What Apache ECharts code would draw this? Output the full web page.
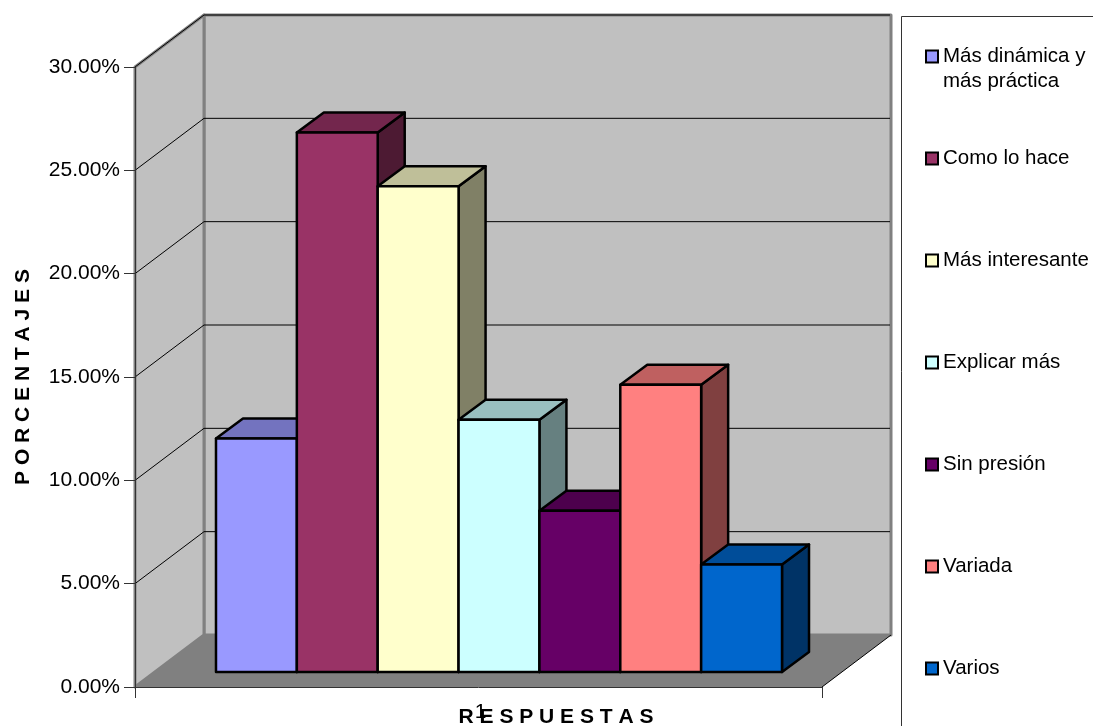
<!DOCTYPE html>
<html>
<head>
<meta charset="utf-8">
<style>html,body{margin:0;padding:0;background:#fff}#chart{width:1093px;height:726px}</style>
<script src="https://cdn.jsdelivr.net/npm/echarts@6/dist/echarts.min.js"></script>
</head>
<body>
<div id="chart"></div>
<script>
// Survey answers, in percent
const categories = ['1'];
const answers = ['Más dinámica y más práctica', 'Como lo hace', 'Más interesante', 'Explicar más', 'Sin presión', 'Variada', 'Varios'];
const shares = [11.3, 26.1, 23.5, 12.2, 7.8, 13.9, 5.2];
const palette = ['#9999FF', '#993366', '#FFFFCC', '#CCFFFF', '#660066', '#FF8080', '#0066CC'];
const gridValues = [5, 10, 15, 20, 25, 30];
const yTitle = 'P O R C E N T A J E S';
const xTitle = 'R E S P U E S T A S';

// Oblique projection of the box: full depth of the room, offset of the bar row, depth of a bar
const ROOM = [69, -52];
const ROW = [20.5, -15];
const BAR = [27, -20];
const BAR_SHARE = 0.1177;   // bar width as a share of the category band
const FONT = '"Liberation Sans", Arial, sans-serif';

function shade(hex, k) {
  const n = parseInt(hex.slice(1), 16);
  const c = [n >> 16, (n >> 8) & 255, n & 255].map(v => Math.round(v * k));
  return 'rgb(' + c.join(',') + ')';
}
function poly(points, fill, stroke, width) {
  return {
    type: 'polygon',
    shape: { points },
    style: { fill, stroke: stroke || null, lineWidth: width || 0, lineJoin: 'round' }
  };
}
function line(points, stroke, width) {
  return {
    type: 'polyline',
    shape: { points },
    style: { fill: null, stroke, lineWidth: width, lineJoin: 'miter' }
  };
}

// Side wall, back wall and floor of the room
function renderRoom(params, api) {
  const band = api.size([1, 0])[0];
  const o = api.coord([0, 0]);
  const t = api.coord([0, 30]);
  const x0 = o[0] - band / 2, x1 = o[0] + band / 2;
  const y0 = o[1], y1 = t[1];
  const [dx, dy] = ROOM;
  const wall = '#C0C0C0', edge = '#808080';
  return {
    type: 'group',
    children: [
      poly([[x0 + dx, y1 + dy], [x1 + dx, y1 + dy], [x1 + dx, y0 + dy], [x0 + dx, y0 + dy]], wall, edge, 3),
      poly([[x0, y1], [x0 + dx, y1 + dy], [x0 + dx, y0 + dy], [x0, y0]], wall, edge, 3),
      poly([[x0, y0], [x0 + dx, y0 + dy], [x1 + dx, y0 + dy], [x1, y0]], edge),
      line([[x1, y0], [x1 + dx, y0 + dy]], '#000', 1)
    ]
  };
}

// One gridline per value, bent across the side wall and the back wall
function renderGridline(params, api) {
  const band = api.size([1, 0])[0];
  const p = api.coord([0, api.value(1)]);
  const x0 = p[0] - band / 2, x1 = p[0] + band / 2;
  const [dx, dy] = ROOM;
  return line([[x0, p[1]], [x0 + dx, p[1] + dy], [x1 + dx - 1, p[1] + dy]], '#000', 1);
}

// One box per answer: the front face comes from the value through the axis scale
function renderBar(index) {
  return function (params, api) {
    const band = api.size([1, 0])[0];
    const w = band * BAR_SHARE;
    const base = api.coord([0, 0]);
    const top = api.coord([0, api.value(1)]);
    const left = base[0] - w * answers.length / 2 + w * index + ROW[0];
    const right = left + w;
    const yb = base[1] + ROW[1], yt = top[1] + ROW[1];
    const [dx, dy] = BAR;
    const c = palette[index];
    return {
      type: 'group',
      children: [
        poly([[right, yt], [right + dx, yt + dy], [right + dx, yb + dy], [right, yb]], shade(c, 0.5), '#000', 2.5),
        poly([[left, yt], [left + dx, yt + dy], [right + dx, yt + dy], [right, yt]], shade(c, 0.75), '#000', 2.5),
        poly([[left, yt], [right, yt], [right, yb], [left, yb]], c, '#000', 2.5)
      ]
    };
  };
}

const series = [
  { type: 'custom', name: 'room', silent: true, z: 1, data: [[0, 30]], encode: { x: 0, y: 1 }, renderItem: renderRoom },
  { type: 'custom', name: 'grid', silent: true, z: 1, data: gridValues.map(v => [0, v]), encode: { x: 0, y: 1 }, renderItem: renderGridline }
].concat(answers.map((name, i) => ({
  type: 'custom',
  name,
  z: 2,
  itemStyle: { color: palette[i] },
  data: [[0, shares[i]]],
  encode: { x: 0, y: 1 },
  renderItem: renderBar(i)
})));

const chart = echarts.init(document.getElementById('chart'), null, { renderer: 'canvas' });
chart.setOption({
  animation: false,
  backgroundColor: '#fff',
  textStyle: { fontFamily: FONT },
  grid: { left: 135, top: 67, width: 687, height: 620, containLabel: false, outerBoundsMode: 'none' },
  xAxis: {
    type: 'category',
    data: categories,
    z: 10,
    name: xTitle,
    nameLocation: 'middle',
    nameMoveOverlap: false,
    nameGap: 20,
    nameTextStyle: { color: '#000', fontFamily: FONT, fontWeight: 'bold', fontSize: 21, padding: [0, 0, 0, 155] },
    axisLine: { lineStyle: { color: '#333', width: 1 } },
    axisTick: { show: true, length: 11, lineStyle: { color: '#333' } },
    axisLabel: { color: '#000', fontFamily: FONT, fontSize: 21, margin: 15, padding: [0, 0, 0, 4] },
    splitLine: { show: false }
  },
  yAxis: {
    type: 'value',
    min: 0,
    max: 30,
    interval: 5,
    z: 10,
    name: yTitle,
    nameLocation: 'middle',
    nameMoveOverlap: false,
    nameGap: 101,
    nameRotate: 90,
    nameTextStyle: { color: '#000', fontFamily: FONT, fontWeight: 'bold', fontSize: 21 },
    axisLine: { show: true, lineStyle: { color: '#333', width: 1 } },
    axisTick: { show: true, length: 11, lineStyle: { color: '#333' } },
    axisLabel: { color: '#000', fontFamily: FONT, fontSize: 21, margin: 15, formatter: v => v.toFixed(2) + '%' },
    splitLine: { show: false }
  },
  legend: {
    orient: 'vertical',
    left: 925,
    top: 19,
    padding: 0,
    icon: 'rect',
    itemWidth: 12,
    itemHeight: 12,
    itemGap: 27,
    data: answers,
    selectedMode: false,
    itemStyle: { borderColor: '#000', borderWidth: 2 },
    textStyle: { color: '#000', fontFamily: FONT, fontSize: 20.5, lineHeight: 25 },
    // Three-line labels keep every swatch on the first text line with an even pitch
    formatter: name => name === answers[0]
      ? '\nMás dinámica y\nmás práctica'
      : '\n' + name + '\n'
  },
  graphic: [{
    type: 'rect',
    silent: true,
    shape: { x: 901.5, y: 16.5, width: 400, height: 900 },
    style: { fill: null, stroke: '#333', lineWidth: 1 }
  }],
  tooltip: { show: false },
  series
});
</script>
</body>
</html>
